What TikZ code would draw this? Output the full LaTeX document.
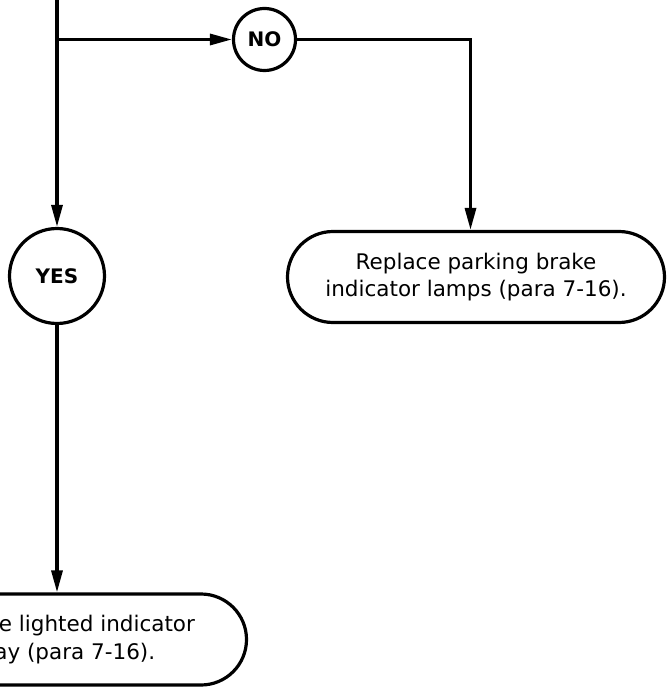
\documentclass[tikz,border=0pt]{standalone}
\usepackage{fontspec}
\setmainfont{DejaVu Sans}
\usetikzlibrary{arrows.meta,shapes.misc}
\begin{document}
\begin{tikzpicture}[x=1pt,y=1pt,
  line width=3.2pt,
  arr/.style={-{Triangle[length=22pt,width=11pt]}},
  decision/.style={circle,draw,line width=3.2pt,inner sep=0pt,font=\bfseries\fontsize{20}{24}\selectfont},
  action/.style={rounded rectangle,draw,line width=3.2pt,minimum height=91pt,align=center,font=\fontsize{21.5}{27.5}\selectfont,inner sep=0pt}]
\useasboundingbox (0,0) rectangle (667,-687);
\clip (0,0) rectangle (667,-687);
\coordinate (top) at (57,10);
\coordinate (branch) at (57,-39.5);
\node[decision,minimum size=62pt] (no) at (264.5,-39.5) {NO};
\node[decision,minimum size=95pt] (yes) at (57,-276) {YES};
\coordinate (corner) at (470.5,-39.5);
\node[action,minimum width=377pt] (lamps) at (476,-277) {Replace parking brake\\indicator lamps (para 7-16).};
\node[action,minimum width=371pt] (relay) at (61,-639.5) {Replace lighted indicator\\relay (para 7-16).};
\draw (top) -- (branch);
\draw[arr] (branch) -- (yes);
\draw[arr] (branch) -- (no);
\draw[arr] (no) -- (corner) -- (lamps.north -| corner);
\draw[arr] (yes) -- (relay.north -| yes);
\end{tikzpicture}
\end{document}
